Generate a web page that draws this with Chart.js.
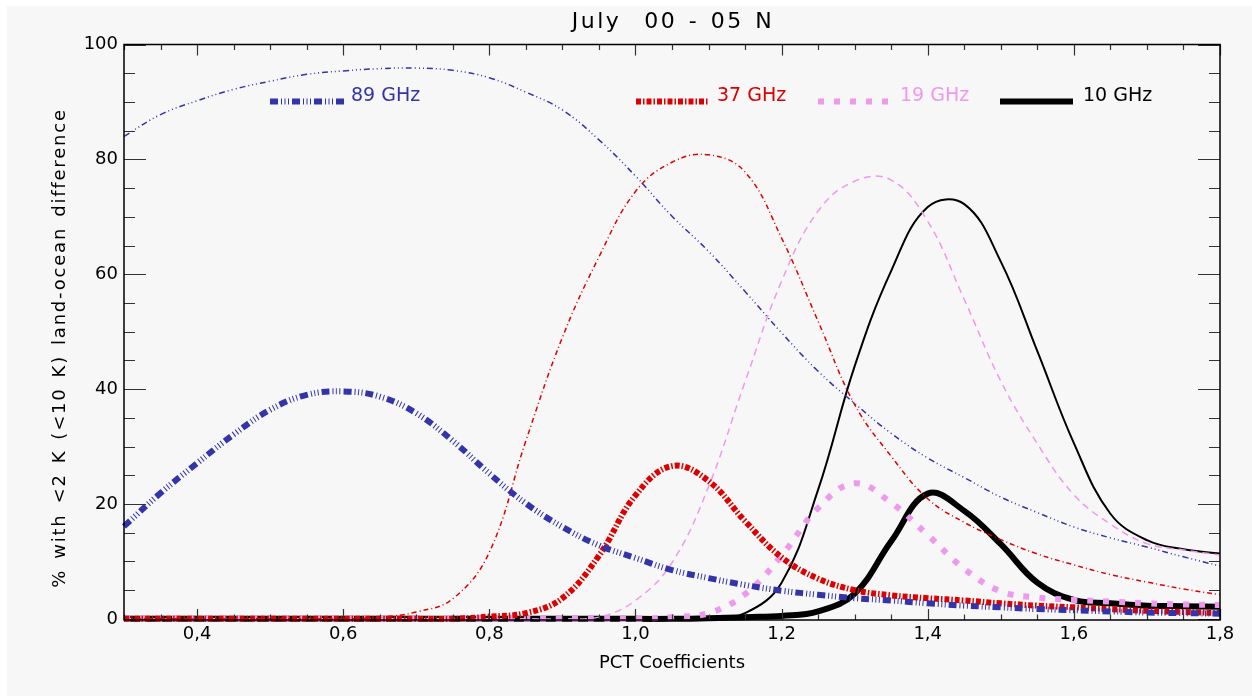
<!DOCTYPE html>
<html>
<head>
<meta charset="utf-8">
<script src="https://cdn.jsdelivr.net/npm/chart.js@4.4.1/dist/chart.umd.min.js"></script>
<style>
html,body{margin:0;padding:0;background:#fff;}
#wrap{position:relative;width:1252px;height:696px;}
</style>
</head>
<body>
<div id="wrap"><canvas id="c" width="1252" height="696"></canvas></div>
<script>
// ---------------- data ----------------
const TITLE = "July  00 - 05 N";
const X_TITLE = "PCT Coefficients";
const Y_TITLE = "% with <2 K (<10 K) land-ocean difference";
const X_VALUES = [0.30,0.35,0.40,0.45,0.50,0.55,0.60,0.65,0.70,0.75,0.80,0.85,0.90,0.95,1.00,1.05,1.10,1.15,1.20,1.25,1.30,1.35,1.40,1.45,1.50,1.55,1.60,1.65,1.70,1.75,1.80];
const X_TICKS = [0.4,0.6,0.8,1.0,1.2,1.4,1.6,1.8];
const Y_TICKS = [0,20,40,60,80,100];
const SERIES_NAMES = ["89 GHz","37 GHz","19 GHz","10 GHz"];

// thin lines: % with < 10 K difference ; thick lines: % with < 2 K difference
const GHZ89_10K = [84.0,87.8,90.2,92.2,93.6,94.8,95.4,95.8,95.9,95.5,94.2,91.7,88.6,83.4,77.1,70.1,64.0,57.0,49.8,43.1,37.5,32.3,28.0,24.6,21.2,18.5,16.0,14.1,12.5,10.8,9.2];
const GHZ89_2K  = [16.1,21.9,27.1,32.1,36.4,39.0,39.6,38.7,35.8,31.0,25.3,20.1,16.0,12.8,10.6,8.5,7.1,5.9,4.9,4.2,3.6,3.2,2.7,2.3,2.0,1.7,1.5,1.3,1.1,1.0,0.9];
const GHZ37_10K = [0,0,0,0,0,0,0,0.3,1.2,3.5,11.6,31.0,49.0,63.0,74.4,79.5,80.8,77.8,66.3,51.8,37.3,28.3,20.9,16.8,13.8,11.3,9.4,7.7,6.4,5.2,4.2];
const GHZ37_2K  = [0,0,0,0,0,0,0,0,0,0,0.4,1.0,3.6,11.0,21.5,26.6,24.0,17.0,10.7,7.0,5.0,4.1,3.6,3.2,2.7,2.3,2.0,1.7,1.4,1.2,1.0];
const GHZ19_10K = [0,0,0,0,0,0,0,0,0,0,0,0,0,0.3,3.2,9.8,23.0,41.3,58.8,71.0,76.2,76.4,69.2,55.6,41.4,30.5,21.6,16.5,13.1,12.0,11.1];
const GHZ19_2K  = [0,0,0,0,0,0,0,0,0,0,0,0,0,0,0,0.3,1.0,4.3,11.0,19.3,23.6,20.2,14.6,8.7,4.8,3.7,3.3,3.0,2.7,2.5,2.4];
const GHZ10_10K = [0,0,0,0,0,0,0,0,0,0,0,0,0,0,0,0,0.2,1.0,6.3,22.5,44.0,60.6,71.7,72.2,62.2,46.6,30.6,18.3,13.7,12.1,11.4];
const GHZ10_2K  = [0,0,0,0,0,0,0,0,0,0,0,0,0,0,0,0,0.1,0.3,0.5,1.3,4.4,13.5,21.8,18.8,13.0,6.3,3.3,2.7,2.3,2.2,2.1];

// ---------------- styles ----------------
const W = 1252, H = 696;
const FONT = "'DejaVu Sans', sans-serif";
const C89 = '#3434aa', C37 = '#dd0000', C19 = '#ee99ee', C10 = '#000000';
const THIN = 1.5, THICK = 6;
const DASH89_THIN = [6,3,1,3,1,3,1,3], DASH89_THICK = [8,3,1,2.5,1,2.5,1,3];
const DASH37_THIN = [5,3,1,3],         DASH37_THICK = [5,2,1.5,2];
const DASH19_THIN = [7,5],             DASH19_THICK = [6,10];
const DASH10 = [];
const LEGEND = [
  {color:C89, dash:DASH89_THICK, x1:270, x2:344, tx:351},
  {color:C37, dash:DASH37_THICK, x1:636, x2:708, tx:717},
  {color:C19, dash:DASH19_THICK, x1:818, x2:892, tx:900},
  {color:C10, dash:DASH10,       x1:1000, x2:1073, tx:1083}
];

function pts(arr){ return arr.map((v,i)=>({x:X_VALUES[i], y:v})); }
function ds(label, data, color, width, dash){
  return {label, data:pts(data), borderColor:color, borderWidth:width, borderDash:dash,
          borderCapStyle:'butt', pointRadius:0, fill:false, tension:0.4, clip:8};
}

const bgPlugin = {
  id:'bg',
  beforeDraw(chart){
    const ctx = chart.ctx; ctx.save();
    ctx.fillStyle = '#ffffff'; ctx.fillRect(0,0,W,H);
    ctx.fillStyle = '#f7f7f7'; ctx.fillRect(7,6,W-7,H-6);
    ctx.restore();
  }
};

const decoPlugin = {
  id:'deco',
  afterDatasetsDraw(chart){
    const {ctx, chartArea:a, scales:{x,y}} = chart;
    ctx.save();
    // ticks (inside)
    ctx.strokeStyle = '#333'; ctx.lineWidth = 1.2;
    ctx.beginPath();
    for (let i=0;i<=30;i++){
      const v = 0.3 + i*0.05, px = Math.round(x.getPixelForValue(v))+0.5;
      const L = (i%4===2) ? 11 : 5.5;
      ctx.moveTo(px,a.bottom); ctx.lineTo(px,a.bottom-L);
      ctx.moveTo(px,a.top); ctx.lineTo(px,a.top+L);
    }
    for (let v=0; v<=100; v+=5){
      const py = Math.round(y.getPixelForValue(v))+0.5;
      const L = (v%20===0) ? 22 : 11;
      ctx.moveTo(a.left,py); ctx.lineTo(a.left+L,py);
      ctx.moveTo(a.right,py); ctx.lineTo(a.right-L,py);
    }
    ctx.stroke();
    // frame
    ctx.strokeStyle = '#000'; ctx.lineWidth = 1.5;
    ctx.strokeRect(a.left, a.top, a.right-a.left, a.bottom-a.top);
    // legend
    ctx.font = "19px " + FONT; ctx.textBaseline = 'middle'; ctx.textAlign = 'left';
    LEGEND.forEach((L,i)=>{
      ctx.strokeStyle = L.color; ctx.lineWidth = THICK; ctx.lineCap = 'butt';
      ctx.setLineDash(L.dash);
      ctx.beginPath(); ctx.moveTo(L.x1,101.5); ctx.lineTo(L.x2,101.5); ctx.stroke();
      ctx.setLineDash([]);
      ctx.fillStyle = L.color;
      ctx.fillText(SERIES_NAMES[i], L.tx, 96);
    });
    // title
    ctx.fillStyle = '#000'; ctx.font = "22px " + FONT; ctx.textAlign = 'center';
    ctx.letterSpacing = '2.5px'; ctx.wordSpacing = '2px';
    ctx.fillText(TITLE, (a.left+a.right)/2 + 1, 22);
    // y-axis title
    ctx.font = "18px " + FONT; ctx.letterSpacing = '1.8px'; ctx.wordSpacing = '2.5px';
    ctx.translate(60, 348); ctx.rotate(-Math.PI/2);
    ctx.fillText(Y_TITLE, 0, 0);
    ctx.restore();
  }
};

new Chart(document.getElementById('c'), {
  type:'line',
  data:{
    datasets:[
      ds('89 GHz <2 K',  GHZ89_2K,  C89, THICK, DASH89_THICK),
      ds('89 GHz <10 K', GHZ89_10K, C89, THIN,  DASH89_THIN),
      ds('37 GHz <2 K',  GHZ37_2K,  C37, THICK, DASH37_THICK),
      ds('37 GHz <10 K', GHZ37_10K, C37, THIN,  DASH37_THIN),
      ds('19 GHz <2 K',  GHZ19_2K,  C19, THICK, DASH19_THICK),
      ds('19 GHz <10 K', GHZ19_10K, C19, THIN,  DASH19_THIN),
      ds('10 GHz <2 K',  GHZ10_2K,  C10, THICK, DASH10),
      ds('10 GHz <10 K', GHZ10_10K, C10, 2,     DASH10)
    ]
  },
  options:{
    responsive:false, animation:false, devicePixelRatio:1,
    layout:{padding:{left:0, right:32, top:44.5, bottom:0}},
    plugins:{legend:{display:false}, tooltip:{enabled:false}, title:{display:false}},
    scales:{
      x:{
        type:'linear', min:0.3, max:1.8,
        afterBuildTicks(s){ s.ticks = X_TICKS.map(v=>({value:v})); },
        afterFit(s){ s.height = 76; },
        grid:{display:false, drawTicks:false}, border:{display:false},
        ticks:{padding:4, color:'#000', font:{family:FONT, size:18}, maxRotation:0,
               callback:v=>v.toFixed(1).replace('.', ',')},
        title:{display:true, text:X_TITLE, color:'#000', font:{family:FONT, size:18, lineHeight:1.2}, padding:{top:0,bottom:22}}
      },
      y:{
        type:'linear', min:-0.2, max:100,
        afterBuildTicks(s){ s.ticks = Y_TICKS.map(v=>({value:v})); },
        afterFit(s){ s.width = 124; },
        grid:{display:false, drawTicks:false}, border:{display:false},
        ticks:{padding:6, color:'#000', font:{family:FONT, size:18}, callback:v=>String(v)},
        title:{display:false}
      }
    }
  },
  plugins:[bgPlugin, decoPlugin]
});
</script>
</body>
</html>
